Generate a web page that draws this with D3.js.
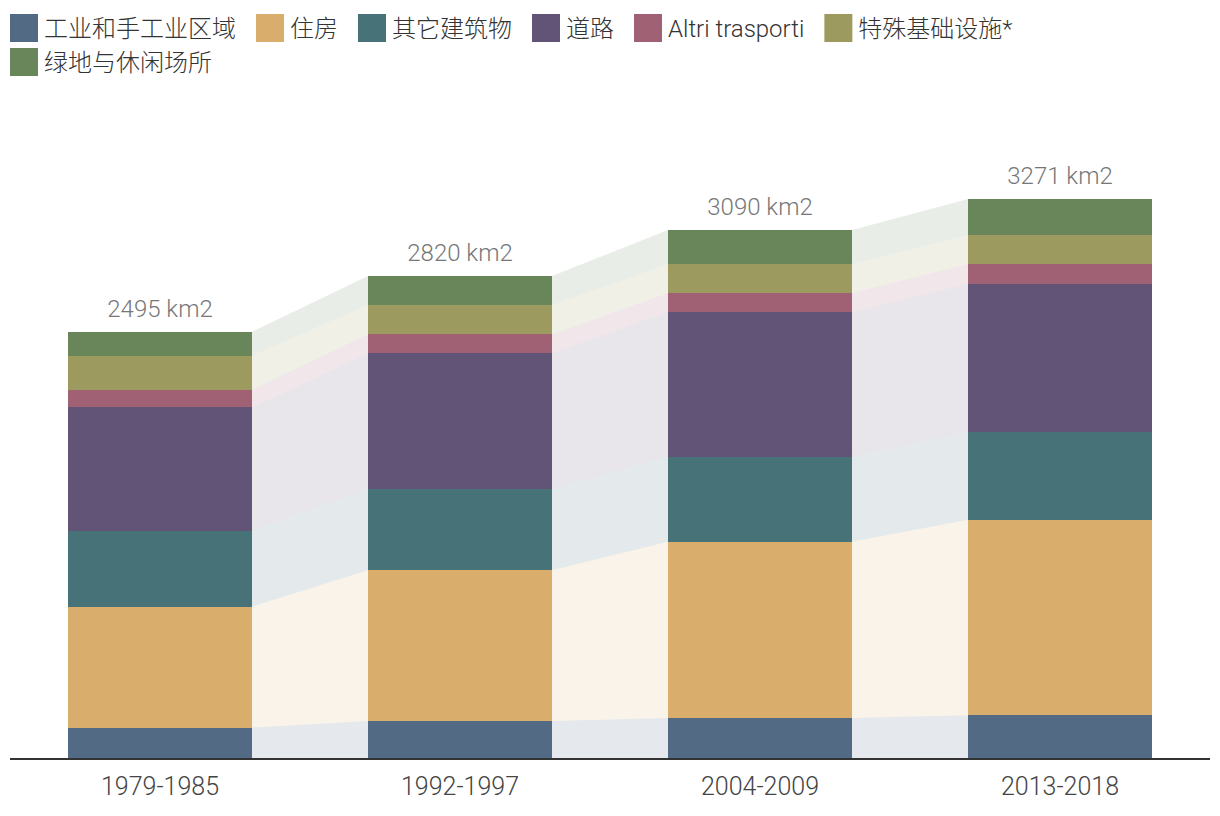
<!DOCTYPE html>
<html>
<head>
<meta charset="utf-8">
<script src="https://cdn.jsdelivr.net/npm/d3@7"></script>
<style>
  html, body { margin: 0; padding: 0; background: #fff; }
  svg { display: block; }
  text { font-family: Roboto, "Noto Sans CJK SC", sans-serif; }
</style>
</head>
<body>
<svg id="chart" width="1220" height="816"></svg>
<script>
// ---- data ----
const periods = ["1979-1985", "1992-1997", "2004-2009", "2013-2018"];
const seriesNames = ["工业和手工业区域", "住房", "其它建筑物", "道路", "Altri trasporti", "特殊基础设施*", "绿地与休闲场所"];
const seriesColors = ["#536a85", "#d9ae6c", "#477277", "#625476", "#a06174", "#9c9a5e", "#69865b"];
const industrial = [178, 216, 234, 250];
const housing    = [708, 883, 1031, 1144];
const otherBuild = [445, 474, 497, 514];
const roads      = [720, 796, 848, 865];
const altri      = [105, 111, 111, 117];
const special    = [199, 170, 170, 170];
const green      = [140, 170, 199, 211];
const totals     = [2495, 2820, 3090, 3271];
const totalLabels = totals.map(t => t + " km2");

const seriesValues = [industrial, housing, otherBuild, roads, altri, special, green];

// ---- build table ----
const rows = periods.map((p, i) => {
  const r = { period: p };
  seriesNames.forEach((s, j) => r[s] = seriesValues[j][i]);
  return r;
});
const stack = d3.stack().keys(seriesNames)(rows);

const svg = d3.select("#chart");
const baseY = 758;
const x = d3.scaleBand().domain(periods).range([10, 1210])
  .paddingInner(116 / 300).paddingOuter(58 / 300);
const y = d3.scaleLinear().domain([0, 3300]).range([baseY, baseY - 3300 * 0.1709]);
const color = d3.scaleOrdinal().domain(seriesNames).range(seriesColors);

// ---- connecting bands ----
const bandG = svg.append("g");
stack.forEach(layer => {
  for (let i = 0; i < periods.length - 1; i++) {
    const a = layer[i], b = layer[i + 1];
    const pts = [
      { x: x(periods[i]) + x.bandwidth(), y0: a[0], y1: a[1] },
      { x: x(periods[i + 1]), y0: b[0], y1: b[1] }
    ];
    const area = d3.area().x(d => d.x).y0(d => y(d.y0)).y1(d => y(d.y1));
    bandG.append("path")
      .attr("d", area(pts))
      .attr("fill", color(layer.key))
      .attr("fill-opacity", 0.15);
  }
});

// ---- bars ----
const barG = svg.append("g").attr("shape-rendering", "crispEdges");
stack.forEach(layer => {
  barG.selectAll(null).data(layer).join("rect")
    .attr("x", d => x(d.data.period))
    .attr("width", x.bandwidth())
    .attr("y", d => Math.round(y(d[1])))
    .attr("height", d => Math.round(y(d[0])) - Math.round(y(d[1])))
    .attr("fill", color(layer.key));
});

// ---- total labels ----
const topLayer = stack[stack.length - 1];
svg.append("g").selectAll("text").data(topLayer).join("text")
  .attr("x", d => x(d.data.period) + x.bandwidth() / 2)
  .attr("y", d => y(d[1]) - 15)
  .attr("text-anchor", "middle")
  .attr("font-size", 24)
  .attr("font-weight", 300)
  .attr("fill", "#777")
  .text((d, i) => totalLabels[i]);

// ---- x axis ----
const axis = svg.append("g").attr("transform", `translate(0,${baseY})`)
  .call(d3.axisBottom(x).tickSize(0).tickPadding(19));
axis.select(".domain").attr("d", "M10,1H1210").attr("stroke", "#333").attr("stroke-width", 2);
axis.selectAll("text").attr("font-size", 25).attr("fill", "#444")
  .attr("font-family", "Roboto, sans-serif").attr("font-weight", 300);

// ---- legend ----
const legend = svg.append("g");
let lx = 10, ly = 14;
const sq = 28, rowH = 34, maxW = 1215;
seriesNames.forEach((s, i) => {
  const g = legend.append("g");
  g.append("rect").attr("width", sq).attr("height", sq).attr("fill", seriesColors[i]);
  const t = g.append("text").attr("x", sq + 6).attr("y", sq / 2).attr("dy", "0.36em")
    .attr("font-size", 24).attr("fill", "#333").attr("font-weight", 300).text(s);
  const w = sq + 6 + t.node().getComputedTextLength();
  if (lx + w > maxW) { lx = 10; ly += rowH; }
  g.attr("transform", `translate(${lx},${ly})`);
  lx += w + 20;
});
</script>
</body>
</html>
